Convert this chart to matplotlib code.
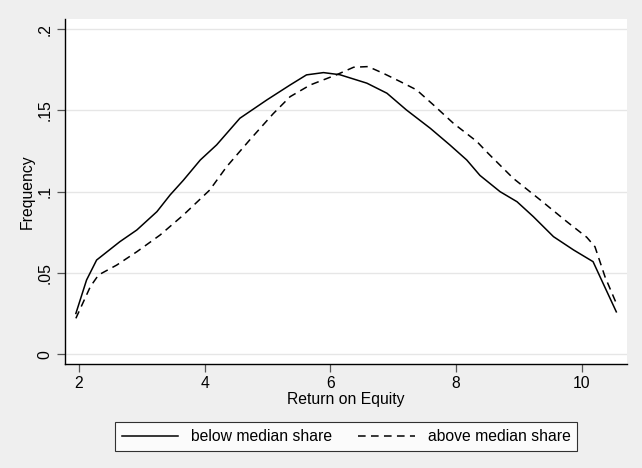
import numpy as np
import matplotlib
matplotlib.use("Agg")
import matplotlib.pyplot as plt

plt.rcParams['font.family'] = ['Liberation Sans', 'DejaVu Sans']

# density curves
below_x = [1.95, 2.12, 2.28, 2.65, 2.92, 3.24, 3.45, 3.66, 3.93, 4.19, 4.56, 4.99,
           5.36, 5.62, 5.89, 6.15, 6.58, 6.90, 7.21, 7.59, 7.90, 8.17, 8.38, 8.70,
           8.97, 9.23, 9.55, 9.87, 10.18, 10.34, 10.55]
below_y = [0.025, 0.0456, 0.0579, 0.0692, 0.0764, 0.0877, 0.098, 0.107, 0.1195, 0.1288,
           0.1452, 0.1565, 0.1657, 0.1719, 0.1733, 0.172, 0.1668, 0.1606, 0.1503, 0.139,
           0.1288, 0.1195, 0.110, 0.100, 0.0938, 0.0846, 0.0723, 0.0641, 0.0569, 0.0435,
           0.026]

above_x = [1.95, 2.18, 2.31, 2.60, 2.92, 3.29, 3.66, 4.08, 4.35, 4.72, 5.09, 5.36,
           5.68, 6.10, 6.37, 6.60, 6.84, 7.11, 7.37, 7.64, 7.96, 8.33, 8.51, 8.91,
           9.34, 9.76, 10.08, 10.21, 10.37, 10.55]
above_y = [0.022, 0.0415, 0.0487, 0.0548, 0.063, 0.0733, 0.0856, 0.101, 0.1154, 0.132,
           0.148, 0.1585, 0.1657, 0.172, 0.1766, 0.177, 0.1729, 0.1678, 0.1627, 0.1534,
           0.142, 0.1309, 0.1236, 0.1082, 0.0949, 0.0816, 0.0719, 0.0661, 0.0476, 0.0312]

x_ticks = [2, 4, 6, 8, 10]
y_ticks = [0, 0.05, 0.1, 0.15, 0.2]
y_labels = ['0', '.05', '.1', '.15', '.2']

fs = 11.3

fig = plt.figure(figsize=(6.42, 4.68), dpi=100)
fig.patch.set_facecolor('#efefef')
ax = fig.add_axes([65 / 642, 1 - 363.5 / 468, 562 / 642, 344.5 / 468])
ax.set_facecolor('white')

for y in y_ticks:
    ax.axhline(y, color='#e6e6e6', lw=1.0, zorder=0)

ax.plot(below_x, below_y, color='black', lw=1.1, label='below median share')
ax.plot(above_x, above_y, color='black', lw=1.1, dashes=(5, 3.5),
        label='above median share')

ax.set_xlim(1.777, 10.72)
ax.set_ylim(-0.0058, 0.2063)
ax.set_xticks(x_ticks)
ax.set_yticks(y_ticks)
ax.set_yticklabels(y_labels, rotation=90, va='center')

for side in ['top', 'right']:
    ax.spines[side].set_visible(False)
for side in ['left', 'bottom']:
    ax.spines[side].set_linewidth(1.0)
    ax.spines[side].set_color('black')

ax.tick_params(axis='both', direction='out', length=6, width=0.9, color='#555555',
               labelsize=fs, pad=3)

ax.set_xlabel('Return on Equity', fontsize=fs, labelpad=1)
ax.set_ylabel('Frequency', fontsize=fs, labelpad=2)

leg = fig.legend(loc='center', bbox_to_anchor=(346 / 642, 1 - 436.5 / 468), ncol=2,
                 fontsize=fs, frameon=True, fancybox=False, handlelength=3.6,
                 columnspacing=1.7, handletextpad=0.8, borderpad=0.45,
                 borderaxespad=0)
leg.get_frame().set_edgecolor('black')
leg.get_frame().set_linewidth(0.8)
leg.get_frame().set_facecolor('white')

fig.savefig('out.png', dpi=100, facecolor=fig.get_facecolor())
